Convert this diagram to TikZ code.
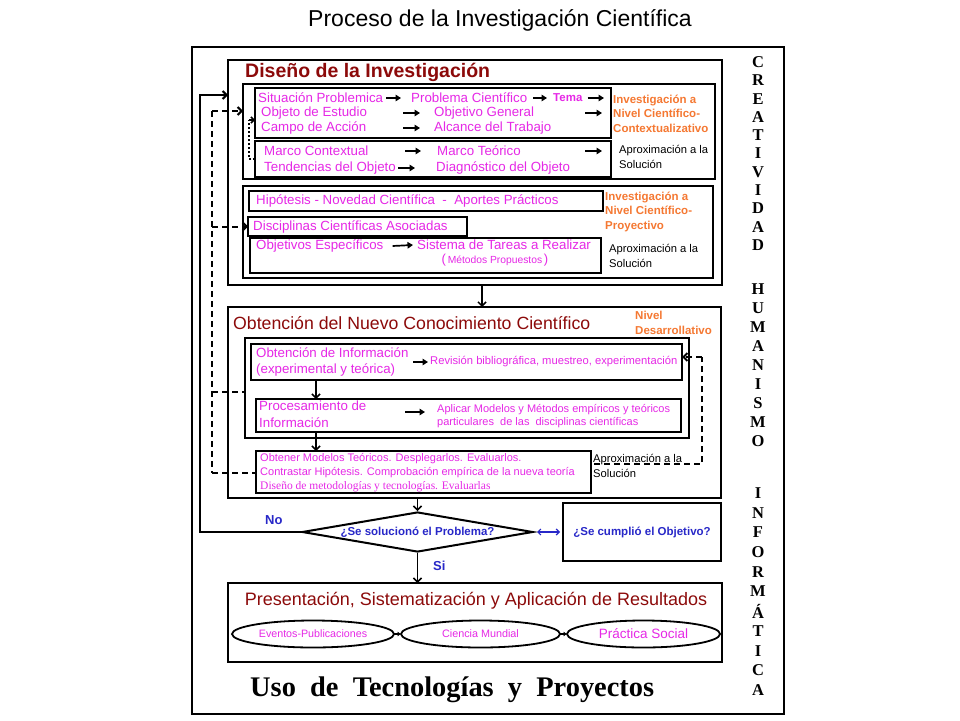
\documentclass[tikz,border=0pt]{standalone}
\usepackage{fontspec}
\setmainfont{Liberation Sans}
\newfontfamily\tnr{Liberation Serif}
\usetikzlibrary{arrows.meta,shapes.geometric}
\definecolor{tmaroon}{RGB}{140,10,10}
\definecolor{tmag}{RGB}{230,40,230}
\definecolor{torange}{RGB}{245,120,50}
\definecolor{tblue}{RGB}{40,40,200}
\begin{document}
\begin{tikzpicture}[x=1pt,y=-1pt,
  bx/.style={draw, anchor=north west, inner sep=0pt, outer sep=0pt},
  thickbox/.style={bx, line width=2pt},
  midbox/.style={bx, line width=1.8pt},
  thinbox/.style={bx, line width=1.4pt},
  txt/.style={inner sep=0pt, anchor=west, text=tmag, font=\fontsize{13.3}{15}\selectfont},
  smalltxt/.style={inner sep=0pt, anchor=west, align=left, text=tmag, font=\fontsize{11}{12.5}\selectfont},
  ora/.style={inner sep=0pt, anchor=west, align=left, text=torange, font=\bfseries\fontsize{11.5}{14.5}\selectfont},
  apx/.style={inner sep=0pt, anchor=west, align=left, font=\fontsize{11.2}{15}\selectfont},
  tarr/.style={line width=1.7pt, -{Triangle[length=5.5pt,width=6.5pt]}},
  barb/.style={line width=1.5pt, -{Straight Barb[length=4pt,width=8pt]}},
  dsh/.style={line width=2pt, dash pattern=on 6pt off 4pt},
  letter/.style={inner sep=0pt, font=\tnr\bfseries\fontsize{16.5}{16.5}\selectfont},
  ell/.style={draw, ellipse, line width=1.8pt, inner sep=0pt, minimum height=27pt}
]
\useasboundingbox (0,0) rectangle (960,720);
\fill[white] (0,0) rectangle (960,720);

% title
\node[font=\fontsize{23}{26}\selectfont] (title) at (500,20) {Proceso de la Investigación Científica};

% outer frame
\node[thickbox, minimum width=592pt, minimum height=667pt] (outer) at (192,47) {};

% ---------- Diseño ----------
\node[thickbox, minimum width=494pt, minimum height=225pt] (box1) at (228,60) {};
\node[inner sep=0pt, anchor=west, text=tmaroon, font=\bfseries\fontsize{19.5}{22}\selectfont] (dtitle) at (245,72) {Diseño de la Investigación};

\node[midbox, minimum width=472pt, minimum height=95pt] (subA) at (243,84) {};
\node[thinbox, minimum width=356pt, minimum height=50pt] (a1) at (255,88) {};
\node[thinbox, minimum width=356pt, minimum height=36pt] (a2) at (255,141) {};

\node[txt] (sp) at (258,98) {Situación Problemica};
\node[txt] (pc) at (411,98) {Problema Científico};
\node[txt, font=\bfseries\fontsize{11.5}{13}\selectfont] (tema) at (553,98) {Tema};
\node[txt] (oe) at (261,113) {Objeto de Estudio};
\node[txt] (og) at (434,113) {Objetivo General};
\node[txt] (ca) at (261,128) {Campo de Acción};
\node[txt] (at) at (434,128) {Alcance del Trabajo};
\node[txt] (mc) at (264,151) {Marco Contextual};
\node[txt] (mt) at (437,151) {Marco Teórico};
\node[txt] (tob) at (264,168) {Tendencias del Objeto};
\node[txt] (dob) at (436,168) {Diagnóstico del Objeto};

\draw[tarr] ([xshift=3pt]sp.east) -- ([xshift=-10pt]pc.west);
\draw[tarr] ([xshift=6pt]pc.east) -- ([xshift=-6pt]tema.west);
\draw[tarr] ([xshift=5pt]tema.east) -- ([xshift=-7pt]a1.east |- tema.east);
\draw[tarr] ([xshift=-31pt]og.west) -- ([xshift=-14pt]og.west);
\draw[tarr] ([xshift=-26pt]a1.east |- og.east) -- ([xshift=-9pt]a1.east |- og.east);
\draw[tarr] ([xshift=-31pt]at.west) -- ([xshift=-14pt]at.west);
\draw[tarr] ([xshift=-32pt]mt.west) -- ([xshift=-16pt]mt.west);
\draw[tarr] ([xshift=-26pt]a2.east |- mt.east) -- ([xshift=-9pt]a2.east |- mt.east);
\draw[tarr] ([xshift=2pt]tob.east) -- ([xshift=-21pt]dob.west);

\node[ora] (ora1) at (613,113.5) {Investigación a\\Nivel Científico-\\Contextualizativo};
\node[apx] (apx1) at (619,156.5) {Aproximación a la\\Solución};

\node[midbox, minimum width=470pt, minimum height=92pt] (subB) at (243,186) {};
\node[thinbox, minimum width=354pt, minimum height=20pt] (b1) at (249,191) {};
\node[thinbox, minimum width=219pt, minimum height=19pt] (b2) at (248,217) {};
\node[thinbox, minimum width=351pt, minimum height=35pt] (b3) at (250,238) {};
\node[txt] (hip) at (256,201) {Hipótesis - Novedad Científica\ \ -\ \ Aportes Prácticos};
\node[txt] (dca) at (253,226.5) {Disciplinas Científicas Asociadas};
\node[txt] (oesp) at (256,246) {Objetivos Específicos};
\node[txt] (st) at (417,245) {Sistema de Tareas a Realizar};
\node[inner sep=0pt, text=tmag, font=\fontsize{10.3}{12}\selectfont] (mp) at (495,260) {{\fontsize{13}{13}\selectfont(}\,Métodos Propuestos\,{\fontsize{13}{13}\selectfont)}};
\draw[tarr] ([xshift=9pt]oesp.east) -- ([xshift=-4pt]st.west);
\node[ora] (ora2) at (605,211.5) {Investigación a\\Nivel Científico-\\Proyectivo};
\node[apx] (apx2) at (609,255.5) {Aproximación a la\\Solución};

% ---------- Obtención ----------
\node[thickbox, minimum width=493pt, minimum height=191pt] (box2) at (228,307) {};
\draw[barb] ([xshift=7pt]box1.south) -- ([xshift=7pt]box1.south |- box2.north);
\node[inner sep=0pt, anchor=west, text=tmaroon, font=\fontsize{17.7}{20}\selectfont] (otitle) at (233,323) {Obtención del Nuevo Conocimiento Científico};
\node[ora] (ora3) at (635,323) {Nivel\\Desarrollativo};

\node[thinbox, minimum width=444pt, minimum height=100pt] (cbox) at (245,338) {};
\node[thinbox, minimum width=431pt, minimum height=36pt] (c1) at (251,344) {};
\node[thinbox, minimum width=425pt, minimum height=33pt] (c2) at (256,399) {};
\node[thinbox, minimum width=335pt, minimum height=42pt] (c3) at (256,451) {};

\node[txt, align=left, font=\fontsize{13.3}{16}\selectfont] (oi) at (256,362) {Obtención de Información\\(experimental y teórica)};
\node[smalltxt, font=\fontsize{11.2}{13}\selectfont] (rb) at (430,362) {Revisión bibliográfica, muestreo, experimentación};
\draw[tarr] ([xshift=-17pt]rb.west) -- ([xshift=-2pt]rb.west);
\node[txt, align=left, font=\fontsize{13.3}{17}\selectfont] (pi) at (259,414) {Procesamiento de\\Información};
\node[smalltxt] (am) at (437,416) {Aplicar Modelos y Métodos empíricos y teóricos\\particulares\ \ de las\ \ disciplinas científicas};
\draw[tarr] ([xshift=-32pt,yshift=4pt]am.west) -- ([xshift=-12pt,yshift=4pt]am.west);
\node[smalltxt, font=\fontsize{11}{14}\selectfont] (c3t) at (260,473) {Obtener Modelos Teóricos. Desplegarlos. Evaluarlos.\\Contrastar Hipótesis. Comprobación empírica de la nueva teoría\\{\tnr\fontsize{11.5}{14}\selectfont Diseño de metodologías y tecnologías. Evaluarlas}};
\node[apx] (apx3) at (593,465.5) {Aproximación a la\\Solución};

\coordinate (dx) at (316,0);
\draw[barb] (c1.south -| dx) -- (c2.north -| dx);
\draw[barb] (c2.south -| dx) -- (c3.north -| dx);

% right dashed loop
\coordinate (dr1) at (594,464);
\coordinate (dr2) at (702,357);
\draw[dsh] (dr1) -| (dr2);
\draw[dsh, -{Straight Barb[length=4pt,width=8pt]}] (dr2) -- ([yshift=5pt]c1.east);

% left dashed system
\coordinate (dlt) at (212,111);
\coordinate (dlm) at (212,392);
\coordinate (dlb) at (212,473);
\draw[dsh] (dlt) -- (dlb);
\draw[dsh, -{Straight Barb[length=4pt,width=8pt]}] (dlt) -- (dlt -| subA.west);
\draw[dsh, -{Straight Barb[length=4pt,width=8pt]}] (dlt |- b2.west) -- (b2.west);
\draw[dsh] (dlm) -- (dlm -| cbox.west);
\draw[dsh] (dlb) -- (dlb -| c3.west);

% dotted
\coordinate (dtb) at (249,159);
\coordinate (dtt) at (249,120);
\draw[line width=2pt, dash pattern=on 2pt off 2pt] (a2.west) -- (dtb) -- (dtt);
\draw[line width=1.5pt, -{Straight Barb[length=3pt,width=6pt]}] (dtt) -- (dtt -| a1.west);

% ---------- decision ----------
\node[draw, diamond, line width=2pt, inner sep=0pt, shape aspect=5.8, minimum width=231pt, minimum height=40pt, text=tblue, font=\bfseries\fontsize{11.5}{13}\selectfont] (dia) at (417.5,532) {¿Se solucionó el Problema?};
\draw[barb] (dia.north |- box2.south) -- (dia.north);
\node[inner sep=0pt, anchor=west, text=tblue, font=\bfseries\fontsize{13}{15}\selectfont] (no) at (265,520) {No};
\node[inner sep=0pt, anchor=west, text=tblue, font=\bfseries\fontsize{13}{15}\selectfont] (si) at (433,566) {Si};

\coordinate (nob) at (200,532);
\coordinate (not) at (200,95);
\draw[line width=2pt, -{Straight Barb[length=4pt,width=8pt]}] (dia.west) -- (nob) -- (not) -- (not -| box1.west);

\node[thickbox, minimum width=158pt, minimum height=58pt, text=tblue, font=\bfseries\fontsize{11.5}{13}\selectfont] (obj) at (563,503) {¿Se cumplió el Objetivo?};
\draw[tblue, line width=1.2pt, {Straight Barb[length=3pt,width=6pt]}-{Straight Barb[length=3pt,width=6pt]}] ([xshift=3pt]dia.east) -- ([xshift=-3pt]obj.west |- dia.east);

% ---------- Presentación ----------
\node[thickbox, minimum width=494pt, minimum height=79pt] (box3) at (228,583) {};
\draw[barb] (dia.south) -- (dia.south |- box3.north);
\node[text=tmaroon, inner sep=0pt, font=\fontsize{18}{20}\selectfont] (ptitle) at (476,601) {Presentación, Sistematización y Aplicación de Resultados};

\node[ell, minimum width=162pt, text=tmag, font=\fontsize{10.7}{12}\selectfont] (e1) at (313,634) {Eventos-Publicaciones};
\node[ell, minimum width=159pt, text=tmag, font=\fontsize{10.8}{12}\selectfont] (e2) at (480.5,634) {Ciencia Mundial};
\node[ell, minimum width=153pt, text=tmag, font=\fontsize{13.5}{15}\selectfont] (e3) at (643.5,634) {Práctica Social};
\draw[line width=2pt, -{Latex[length=3.5pt,width=5pt]}] ([xshift=-1pt]e1.east) -- ([xshift=1pt]e2.west);
\draw[line width=2pt, -{Latex[length=3.5pt,width=5pt]}] ([xshift=-1pt]e2.east) -- ([xshift=1pt]e3.west);

\node[inner sep=0pt, anchor=west, font=\tnr\bfseries\fontsize{28.4}{30}\selectfont] (uso) at (250,690) {Uso\ \ de\ \ Tecnologías\ \ y\ \ Proyectos};

% ---------- right column ----------
\foreach \l [count=\i] in {C,R,E,A,T,I,V,I,D,A,D}
  \node[letter] (cre\i) at (758,{62+(\i-1)*18.3}) {\l};
\foreach \l [count=\i] in {H,U,M,A,N,I,S,M,O}
  \node[letter] (hum\i) at (758,{289+(\i-1)*19}) {\l};
\foreach \l [count=\i] in {I,N,F,O,R,M,Á,T,I,C,A}
  \node[letter] (inf\i) at (758,{493+(\i-1)*19.7}) {\l};
\end{tikzpicture}
\end{document}
